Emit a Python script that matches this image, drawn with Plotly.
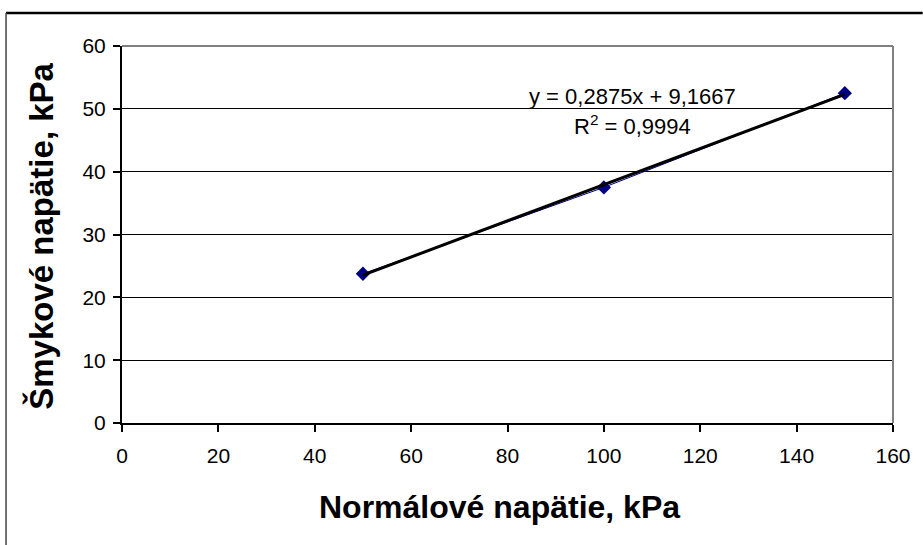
import numpy as np
import plotly.graph_objects as go

# data
normal_stress = [50, 100, 150]
shear_stress = [23.75, 37.5, 52.5]
x_ticks = [0, 20, 40, 60, 80, 100, 120, 140, 160]
y_ticks = [0, 10, 20, 30, 40, 50, 60]
x_title = "Normálové napätie, kPa"
y_title = "Šmykové napätie, kPa"

slope, intercept = np.polyfit(normal_stress, shear_stress, 1)
pred = np.polyval([slope, intercept], normal_stress)
ss_res = np.sum((np.array(shear_stress) - pred) ** 2)
ss_tot = np.sum((np.array(shear_stress) - np.mean(shear_stress)) ** 2)
r2 = 1 - ss_res / ss_tot

def cz(v, d=4):
    return f"{v:.{d}f}".replace(".", ",")

W, H = 923, 545
ml, mr, mt, mb = 122, 23, 46, 122
pw, ph = W - ml - mr, H - mt - mb

def px_x(p):
    return (p - ml) / pw

def px_y(p):
    return (H - mb - p) / ph

FONT = "Liberation Sans, Arial, sans-serif"

fig = go.Figure()
fig.add_trace(go.Scatter(
    x=normal_stress, y=shear_stress, mode="lines+markers",
    line=dict(color="#000080", width=1),
    marker=dict(symbol="diamond", size=11, color="#000080"),
    showlegend=False,
))
trend_x = [min(normal_stress), max(normal_stress)]
trend_y = list(np.polyval([slope, intercept], trend_x))
fig.add_trace(go.Scatter(
    x=trend_x, y=trend_y, mode="lines",
    line=dict(color="black", width=3),
    showlegend=False,
))

fig.update_layout(
    width=W, height=H,
    margin=dict(l=ml, r=mr, t=mt, b=mb),
    paper_bgcolor="white", plot_bgcolor="white",
    font=dict(family=FONT, color="black", size=21),
    xaxis=dict(
        range=[0, 160], tickvals=x_ticks, ticks="outside", ticklen=7,
        tickcolor="black", tickwidth=1.5, showline=True, linecolor="black",
        linewidth=2, showgrid=False, zeroline=False, ticklabelstandoff=6,
        tickfont=dict(size=21), fixedrange=True,
    ),
    yaxis=dict(
        range=[0, 60], tickvals=y_ticks, ticks="outside", ticklen=7,
        tickcolor="black", tickwidth=1.5, showline=True, linecolor="black",
        linewidth=2, showgrid=True, gridcolor="black", gridwidth=1.3,
        zeroline=False, ticklabelstandoff=3,
        tickfont=dict(size=21), fixedrange=True,
    ),
    shapes=[
        dict(type="line", xref="paper", yref="paper", x0=0, x1=1, y0=1, y1=1,
             line=dict(color="#808080", width=2)),
        dict(type="line", xref="paper", yref="paper", x0=1, x1=1, y0=0, y1=1,
             line=dict(color="#808080", width=2)),
        dict(type="line", xref="paper", yref="paper", x0=px_x(5), x1=px_x(930),
             y0=px_y(13), y1=px_y(13), line=dict(color="black", width=2.5)),
        dict(type="line", xref="paper", yref="paper", x0=px_x(5), x1=px_x(5),
             y0=px_y(13), y1=px_y(560), line=dict(color="#444444", width=1.5)),
    ],
    annotations=[
        dict(x=105.9, y=52.04, xref="x", yref="y", showarrow=False,
             text=f"y = {cz(slope)}x + {cz(intercept)}", font=dict(size=22)),
        dict(x=105.9, y=47.43, xref="x", yref="y", showarrow=False,
             text=f"R<sup>2</sup> = {cz(r2)}", font=dict(size=22)),
        dict(x=px_x(503), y=px_y(507), xref="paper", yref="paper",
             showarrow=False, text=f"<b>{x_title}</b>",
             font=dict(size=32), xanchor="center", yanchor="middle"),
        dict(x=px_x(40), y=px_y(236), xref="paper", yref="paper",
             showarrow=False, text=f"<b>{y_title}</b>", textangle=-90,
             font=dict(size=33), xanchor="center", yanchor="middle"),
    ],
)

fig.write_html("out.html")
